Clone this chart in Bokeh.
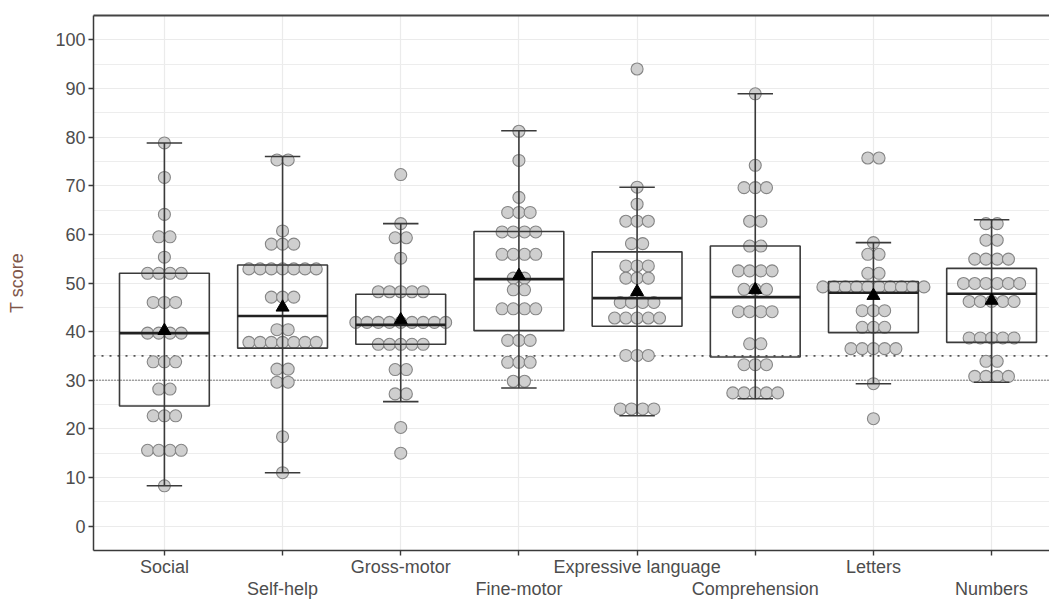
from collections import Counter
from bokeh.plotting import figure
from bokeh.models import Range1d, FixedTicker, LinearAxis, Span, ColumnDataSource
from bokeh.embed import file_html
from bokeh.resources import INLINE

categories = ["Social", "Self-help", "Gross-motor", "Fine-motor",
              "Expressive language", "Comprehension", "Letters", "Numbers"]

social = [78.8, 71.7, 64.1, 59.5, 59.5, 55.3, 52.0, 52.0, 52.0, 52.0,
          46.0, 46.0, 46.0, 39.7, 39.7, 39.7, 39.7, 33.8, 33.8, 33.8,
          28.2, 28.2, 22.7, 22.7, 22.7, 15.6, 15.6, 15.6, 15.6, 8.3]
self_help = [75.3, 75.3, 60.7, 58.0, 58.0, 58.0, 52.9, 52.9, 52.9, 52.9,
             52.9, 52.9, 52.9, 47.1, 47.1, 47.1, 40.4, 40.4, 37.8, 37.8,
             37.8, 37.8, 37.8, 37.8, 37.8, 32.3, 32.3, 29.6, 29.6, 18.4, 11.0]
gross_motor = [72.3, 62.2, 59.3, 59.3, 55.1, 48.2, 48.2, 48.2, 48.2, 48.2,
               41.9, 41.9, 41.9, 41.9, 41.9, 41.9, 41.9, 41.9, 41.9,
               37.4, 37.4, 37.4, 37.4, 37.4, 32.2, 32.2, 27.2, 27.2, 20.3, 15.0]
fine_motor = [81.2, 75.2, 67.6, 64.5, 64.5, 64.5, 60.5, 60.5, 60.5, 60.5,
              55.9, 55.9, 55.9, 55.9, 51.0, 51.0, 48.6, 48.6, 44.7, 44.7,
              44.7, 44.7, 38.2, 38.2, 38.2, 33.7, 33.7, 33.7, 29.8, 29.8]
expressive = [94.0, 69.7, 66.2, 62.7, 62.7, 62.7, 58.1, 58.1, 53.5, 53.5,
              53.5, 51.0, 51.0, 51.0, 46.0, 46.0, 46.0, 46.0, 42.8, 42.8,
              42.8, 42.8, 42.8, 35.1, 35.1, 35.1, 24.1, 24.1, 24.1, 24.1]
comprehension = [88.9, 74.2, 69.6, 69.6, 69.6, 62.7, 62.7, 57.6, 57.6,
                 52.5, 52.5, 52.5, 52.5, 48.7, 48.7, 48.7, 44.1, 44.1, 44.1,
                 44.1, 37.5, 37.5, 33.2, 33.2, 33.2, 27.4, 27.4, 27.4, 27.4, 27.4]
letters = [75.7, 75.7, 58.3, 55.9, 55.9, 52.0, 52.0, 49.2, 49.2, 49.2,
           49.2, 49.2, 49.2, 49.2, 49.2, 49.2, 49.2, 44.3, 44.3, 44.3,
           40.9, 40.9, 40.9, 36.5, 36.5, 36.5, 36.5, 36.5, 29.3, 22.1]
numbers = [62.2, 62.2, 58.8, 58.8, 54.9, 54.9, 54.9, 54.9, 49.9, 49.9,
           49.9, 49.9, 49.9, 49.9, 46.2, 46.2, 46.2, 46.2, 46.2, 38.7,
           38.7, 38.7, 38.7, 38.7, 33.9, 33.9, 30.8, 30.8, 30.8, 30.8]

series = [social, self_help, gross_motor, fine_motor, expressive,
          comprehension, letters, numbers]

whisker_low = [8.3, 11.0, 25.6, 28.4, 22.7, 26.2, 29.3, 29.6]
q1 = [24.7, 36.6, 37.4, 40.2, 41.1, 34.8, 39.8, 37.8]
median = [39.7, 43.2, 41.4, 50.8, 46.9, 47.1, 48.0, 47.8]
q3 = [52.0, 53.7, 47.7, 60.6, 56.4, 57.6, 50.3, 53.0]
whisker_high = [78.8, 76.0, 62.2, 81.3, 69.7, 88.9, 58.3, 63.0]
mean = [40.2, 45.0, 42.4, 51.5, 48.2, 48.6, 47.4, 46.4]

cutoffs = [35, 30]

FONT = "Liberation Sans"
DOT_STEP = 0.095
BOX_W = 0.76
CAP_W = 0.30

p = figure(width=1049, height=601, output_backend="svg", toolbar_location=None,
           x_range=Range1d(0.4, 8.49), y_range=Range1d(-5, 105),
           min_border_left=93, min_border_right=0, min_border_top=15,
           min_border_bottom=0)
p.outline_line_color = None
p.background_fill_color = "white"
p.border_fill_color = "white"

pos = list(range(1, len(categories) + 1))

# grid
p.xgrid.ticker = FixedTicker(ticks=pos)
p.xgrid.grid_line_color = "#ebebeb"
p.xgrid.grid_line_width = 1.2
p.ygrid.ticker = FixedTicker(ticks=list(range(0, 101, 10)),
                             minor_ticks=list(range(5, 100, 10)))
p.ygrid.grid_line_color = "#ebebeb"
p.ygrid.grid_line_width = 1.2
p.ygrid.minor_grid_line_color = "#ededed"
p.ygrid.minor_grid_line_width = 1.0

# cutoff lines
p.add_layout(Span(location=cutoffs[0], dimension="width", line_color="#555555",
                  line_width=1.8, line_dash="2 6", level="underlay"))
p.add_layout(Span(location=cutoffs[1], dimension="width", line_color="#555555",
                  line_width=1.6, line_dash="1 2", level="underlay"))

# dots (stacked horizontally within equal values)
dx, dy = [], []
for i, vals in enumerate(series):
    counts = Counter(vals)
    for v, n in counts.items():
        for k in range(n):
            dx.append(pos[i] + (k - (n - 1) / 2) * DOT_STEP)
            dy.append(v)
p.scatter(dx, dy, marker="circle", size=12, fill_color="#cfcfcf",
          line_color="#858585", line_width=1.1)

src = ColumnDataSource(dict(x=pos, lo=whisker_low, q1=q1, med=median, q3=q3,
                            hi=whisker_high, mean=mean,
                            xl=[x - BOX_W / 2 for x in pos],
                            xr=[x + BOX_W / 2 for x in pos],
                            cl=[x - CAP_W / 2 for x in pos],
                            cr=[x + CAP_W / 2 for x in pos]))

p.vbar(x="x", width=BOX_W, bottom="q1", top="q3", fill_color=None,
       line_color="#3a3a3a", line_width=1.6, source=src)
p.segment(x0="x", y0="lo", x1="x", y1="hi", line_color="#3a3a3a",
          line_width=1.6, source=src)
p.segment(x0="cl", y0="lo", x1="cr", y1="lo", line_color="#3a3a3a",
          line_width=1.6, source=src)
p.segment(x0="cl", y0="hi", x1="cr", y1="hi", line_color="#3a3a3a",
          line_width=1.6, source=src)
p.segment(x0="xl", y0="med", x1="xr", y1="med", line_color="#222222",
          line_width=2.6, source=src)
p.scatter(x="x", y="mean", marker="triangle", size=13, fill_color="black",
          line_color="black", source=src)

# axes: odd categories on the first row, even ones on the second row
xa = p.xaxis[0]
xa.ticker = FixedTicker(ticks=pos)
xa.major_label_overrides = {i + 1: (c if i % 2 == 0 else "\n" + c)
                            for i, c in enumerate(categories)}
xa.axis_line_color = "#3a3a3a"
xa.axis_line_width = 1.5
xa.major_tick_line_color = "#3a3a3a"
xa.major_tick_line_width = 1.4
xa.major_tick_out = 5
xa.major_tick_in = 0
xa.minor_tick_line_color = None
xa.major_label_standoff = 1
xa.major_label_text_font = FONT
xa.major_label_text_font_size = "18px"
xa.major_label_text_color = "#4d4d4d"
xa.major_label_text_line_height = 1.1

top = LinearAxis(ticker=FixedTicker(ticks=[]), axis_line_color="#444444",
                 axis_line_width=1.8, major_tick_line_color=None,
                 minor_tick_line_color=None, major_tick_out=0, major_tick_in=0,
                 major_label_standoff=0, major_label_text_font_size="0px")
p.add_layout(top, "above")

ya = p.yaxis[0]
ya.ticker = FixedTicker(ticks=list(range(0, 101, 10)))
ya.axis_line_color = "#3a3a3a"
ya.axis_line_width = 1.5
ya.major_tick_line_color = "#3a3a3a"
ya.major_tick_line_width = 1.4
ya.major_tick_out = 5
ya.major_tick_in = 0
ya.minor_tick_line_color = None
ya.major_label_standoff = 3
ya.major_label_text_font = FONT
ya.major_label_text_font_size = "18px"
ya.major_label_text_color = "#4d4d4d"
ya.axis_label = "T score"
ya.axis_label_text_font = FONT
ya.axis_label_text_font_size = "18px"
ya.axis_label_text_font_style = "normal"
ya.axis_label_text_color = "#80574a"
ya.axis_label_standoff = 25

open("out.html", "w").write(file_html(p, INLINE))
